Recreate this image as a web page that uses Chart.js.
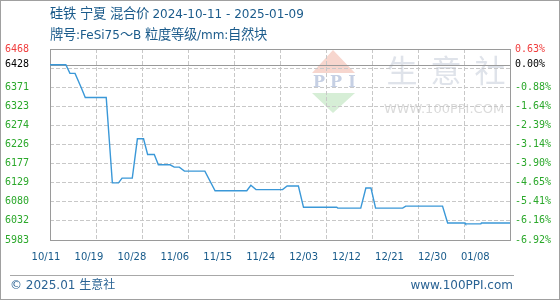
<!DOCTYPE html>
<html><head><meta charset="utf-8">
<script src="https://cdn.jsdelivr.net/npm/chart.js@4.4.1/dist/chart.umd.min.js"></script>
<style>
@font-face{font-family:"CJKBig";src:local("Noto Sans CJK SC");size-adjust:111%;unicode-range:U+3000-303F,U+4E00-9FFF,U+FF00-FFEF;}
html,body{margin:0;padding:0;background:#fff;}
#wrap{position:relative;width:560px;height:300px;overflow:hidden;background:#fff;}
#c{position:absolute;left:0;top:0;}
.t{position:absolute;left:50px;font-family:"DejaVu Sans","Noto Sans CJK SC",sans-serif;font-size:12px;color:#1b5b8b;white-space:nowrap;line-height:16px;}
.big{font-family:"CJKBig","DejaVu Sans","Noto Sans CJK SC",sans-serif;}
#frame{position:absolute;left:0;top:0;width:558px;height:298px;border:1px solid #a0a0a0;pointer-events:none;}
#fline{position:absolute;left:10px;top:275px;width:504px;height:1px;background:#a8a8a8;}
</style></head><body>
<div id="wrap">
<canvas id="c" width="560" height="300"></canvas>
<div class="t big" style="top:6px">硅铁 宁夏 混合价 2024-10-11 - 2025-01-09</div>
<div class="t big" style="top:27px">牌号:FeSi75～B 粒度等级/mm:自然块</div>
<div id="fline"></div>
<div class="t" style="left:10px;top:277px;color:#2a6394;">© 2025.01 生意社</div>
<div class="t" style="left:auto;right:47px;top:277px;color:#2a6394;">www.100PPI.com</div>
<div id="frame"></div>
</div>
<script>
// ---- data ----
const X_LABELS = ['10/11','10/19','10/28','11/06','11/15','11/24','12/03','12/12','12/21','12/30','01/08'];
const DAYS = [0, 3.1, 3.9, 4.9, 6.1, 6.9, 11.0, 12.2, 13.4, 14.1, 16.1, 17.1, 18.3, 19.1, 20.4, 21.2, 23.5, 24.3, 25.3, 26.3, 30.3, 32.3, 38.5, 39.3, 40.3, 45.5, 46.4, 48.6, 49.6, 56.1, 56.3, 60.8, 61.8, 62.8, 63.7, 69.0, 69.6, 76.8, 77.8, 81.2, 81.3, 84.3, 84.4, 90];
const PRICES = [6428, 6428, 6406, 6406, 6370, 6345, 6345, 6128, 6128, 6140, 6140, 6240, 6240, 6200, 6200, 6174, 6174, 6168, 6168, 6158, 6158, 6108, 6108, 6122, 6111, 6111, 6120, 6120, 6066, 6066, 6064, 6064, 6115, 6115, 6064, 6064, 6069, 6069, 6026, 6026, 6024, 6024, 6026, 6026];
const BASE_PRICE = 6428;
const Y_MIN = 5983;
const Y_MAX = 6468;
const Y_TICKS = [5983, 6031.5, 6080, 6128.5, 6177, 6225.5, 6274, 6322.5, 6371, 6419.5, 6428, 6468];
const Y_LEFT_LABELS = ['5983','6032','6080','6129','6177','6226','6274','6323','6371','','6428','6468'];
const Y_RIGHT_LABELS = ['-6.92%','-6.16%','-5.41%','-4.65%','-3.90%','-3.14%','-2.39%','-1.64%','-0.88%','','0.00%','0.63%'];
const DAYS_SPAN = 90;
const GRID_STEP_DAYS = 9;

// ---- styles ----
const GRID = '#c8c8c8';
const FRAME = '#9a9a9a';
const tickColor = v => v > BASE_PRICE ? '#f03c3c' : (v === BASE_PRICE ? '#000000' : '#2ba82b');
const clear = 'rgba(0,0,0,0)';

const watermark = {
  id: 'watermark',
  beforeDraw(chart) {
    const ctx = chart.ctx;
    ctx.save();
    ctx.fillStyle = '#f7d6ce';
    ctx.beginPath(); ctx.moveTo(333, 50); ctx.lineTo(355, 73); ctx.lineTo(312, 73); ctx.closePath(); ctx.fill();
    ctx.fillStyle = '#d6eed6';
    ctx.beginPath(); ctx.moveTo(312, 93); ctx.lineTo(355, 93); ctx.lineTo(333, 113); ctx.closePath(); ctx.fill();
    ctx.fillStyle = '#c6d0e4';
    ctx.font = 'bold 16px "DejaVu Serif"';
    ctx.textAlign = 'center'; ctx.textBaseline = 'middle';
    ctx.fillText('P', 319, 83); ctx.fillText('P', 336, 83); ctx.fillText('I', 352, 83);
    ctx.fillStyle = '#dfe3ea';
    ctx.font = '31px "Noto Sans CJK SC"';
    ctx.fillText('生', 402, 70); ctx.fillText('意', 446, 70); ctx.fillText('社', 490, 70);
    ctx.fillStyle = '#dadada';
    ctx.font = '13px "DejaVu Sans"';
    ctx.fillText('WWW.100PPI.COM', 444, 110);
    ctx.restore();
  }
};

const frame = {
  id: 'frame',
  beforeDatasetsDraw(chart) {
    const {ctx, chartArea: a, scales} = chart;
    ctx.save();
    ctx.strokeStyle = FRAME; ctx.lineWidth = 1;
    const L = Math.round(a.left) + 0.5, R = Math.round(a.right) + 0.5, T = Math.round(a.top) + 0.5, B = Math.round(a.bottom) + 0.5;
    ctx.strokeRect(L, T, R - L, B - T);
    const yb = Math.round(scales.y.getPixelForValue(BASE_PRICE)) + 0.5;
    ctx.beginPath(); ctx.moveTo(L, yb); ctx.lineTo(R, yb); ctx.stroke();
    ctx.restore();
  }
};

new Chart(document.getElementById('c'), {
  type: 'line',
  data: { datasets: [{
    data: DAYS.map((d, i) => ({x: d, y: PRICES[i]})),
    borderColor: '#3a98d8', borderWidth: 1.4, pointRadius: 0, tension: 0, fill: false,
    xAxisID: 'x', yAxisID: 'y'
  }]},
  options: {
    responsive: false, animation: false, devicePixelRatio: 1,
    layout: {padding: {left: 5, top: 49, right: 0, bottom: 0}},
    plugins: {legend: {display: false}, tooltip: {enabled: false}, title: {display: false}},
    scales: {
      x: {
        type: 'linear', position: 'bottom', min: 0, max: DAYS_SPAN,
        afterBuildTicks: s => { s.ticks = X_LABELS.map((_, i) => ({value: i * GRID_STEP_DAYS})); },
        ticks: {display: false},
        grid: {color: c => (c.tick && (c.tick.value === 0 || c.tick.value === DAYS_SPAN)) ? clear : GRID, drawTicks: false},
        border: {display: false, dash: [4, 2]},
        afterFit: s => { s.height = 0; }
      },
      xl: {
        type: 'linear', position: 'bottom', min: 0, max: 10.715,
        afterBuildTicks: s => { s.ticks = X_LABELS.map((_, i) => ({value: i})); },
        ticks: {autoSkip: false, maxRotation: 0, labelOffset: -4, padding: 11,
          callback: (v, i) => X_LABELS[i], color: '#175a8a', font: {family: 'DejaVu Sans', size: 10}},
        grid: {display: false, drawTicks: false}, border: {display: false},
        afterFit: s => { s.height = 60; }
      },
      y: {
        type: 'linear', position: 'left', min: Y_MIN, max: Y_MAX,
        afterBuildTicks: s => { s.ticks = Y_TICKS.map(v => ({value: v})); },
        ticks: {autoSkip: false, crossAlign: 'far', padding: 0,
          callback: (v, i) => Y_LEFT_LABELS[i], color: c => tickColor(c.tick.value),
          font: {family: 'DejaVu Sans Mono', size: 10}},
        grid: {color: c => { const v = c.tick && c.tick.value; return (v === Y_MIN || v === Y_MAX || v === BASE_PRICE) ? clear : GRID; }, drawTicks: false},
        border: {display: false, dash: [4, 2]},
        afterFit: s => { s.width = 45; }
      },
      y2: {
        type: 'linear', position: 'right', min: Y_MIN, max: Y_MAX,
        afterBuildTicks: s => { s.ticks = Y_TICKS.map(v => ({value: v})); },
        ticks: {autoSkip: false, padding: 5,
          callback: (v, i) => Y_RIGHT_LABELS[i], color: c => tickColor(c.tick.value),
          font: {family: 'DejaVu Sans Mono', size: 10}},
        grid: {display: false, drawTicks: false}, border: {display: false},
        afterFit: s => { s.width = 50; }
      }
    }
  },
  plugins: [watermark, frame]
});
</script>
</body></html>
